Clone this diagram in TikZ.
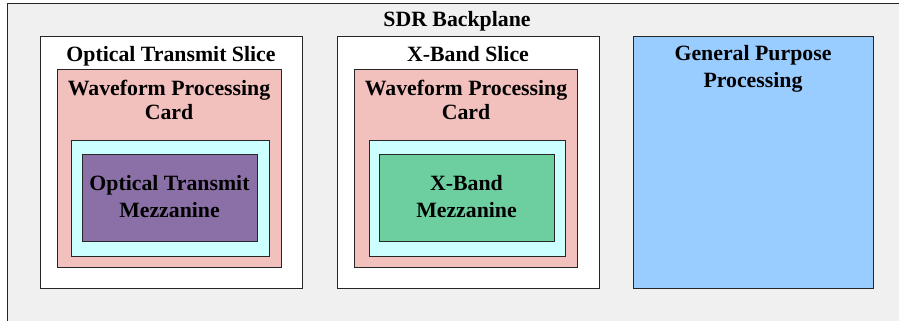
\documentclass[tikz,border=0pt]{standalone}
\usepackage{fontspec}
\setmainfont{Liberation Serif}
\definecolor{bpgray}{HTML}{F0F0F0}
\definecolor{wpcpink}{HTML}{F2C1BE}
\definecolor{mezcyan}{HTML}{CCFFFF}
\definecolor{mezpurple}{HTML}{8A70A6}
\definecolor{mezgreen}{HTML}{6DCFA0}
\definecolor{gppblue}{HTML}{99CCFF}
\tikzset{
  box/.style={draw=black!85, line width=0.9pt},
  lbl/.style={anchor=base, inner sep=0pt, font=\fontsize{21.8}{25}\selectfont\bfseries},
}
\begin{document}
\begin{tikzpicture}[x=1pt,y=-1pt]
\useasboundingbox (0,0) rectangle (899,321);
\clip (0,0) rectangle (899,321);
\fill[white] (0,0) rectangle (899,321);
% backplane
\path[box, fill=bpgray] (7.3,3) rectangle (910,340);
\node[lbl] (bp) at (457,27) {SDR Backplane};
% Optical slice
\path[box, fill=white] (40,36) rectangle (302,288);
\node[lbl] (ots) at (171,61.5) {Optical Transmit Slice};
\path[box, fill=wpcpink] (57.5,69) rectangle (281,267);
\node[lbl] (w1a) at (169,95) {Waveform Processing};
\node[lbl] (w1b) at (169,119) {Card};
\path[box, fill=mezcyan] (71,140) rectangle (269,256);
\path[box, fill=mezpurple] (82,154) rectangle (257,241);
\node[lbl] (m1a) at (169.5,190) {Optical Transmit};
\node[lbl] (m1b) at (169.5,217) {Mezzanine};
% X-band slice
\path[box, fill=white] (337,36) rectangle (599,288);
\node[lbl] (xbs) at (468,61.5) {X-Band Slice};
\path[box, fill=wpcpink] (354,69) rectangle (577.5,267);
\node[lbl] (w2a) at (466,95) {Waveform Processing};
\node[lbl] (w2b) at (466,119) {Card};
\path[box, fill=mezcyan] (369,140) rectangle (565,256);
\path[box, fill=mezgreen] (379,154) rectangle (554,241);
\node[lbl] (m2a) at (466.5,190) {X-Band};
\node[lbl] (m2b) at (466.5,217) {Mezzanine};
% GPP
\path[box, fill=gppblue] (633,36) rectangle (873,288);
\node[lbl] (g1) at (753,61) {General Purpose};
\node[lbl] (g2) at (753,87) {Processing};
\end{tikzpicture}
\end{document}
